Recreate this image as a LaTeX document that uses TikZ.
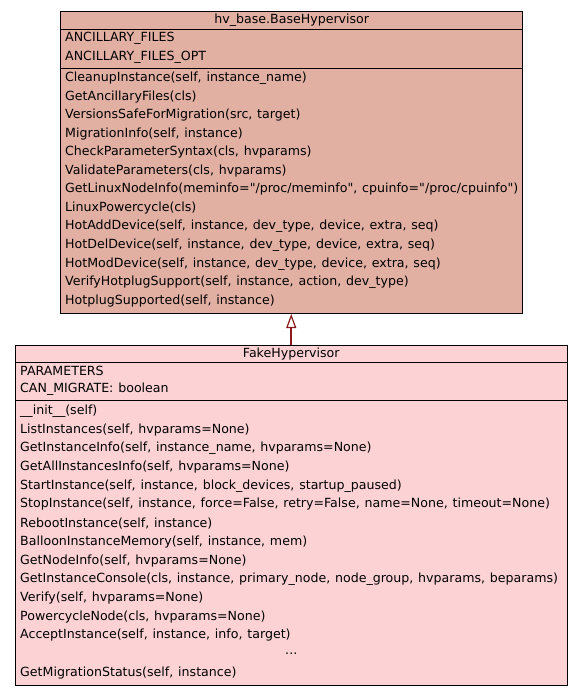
\documentclass[tikz,border=0pt]{standalone}
\usepackage{fontspec}
\newfontfamily\umlfont{DejaVu Sans}[WordSpace=1.2]
\usetikzlibrary{arrows.meta}
\definecolor{basefill}{RGB}{226,176,163}
\definecolor{fakefill}{RGB}{253,210,213}
\definecolor{inheritline}{RGB}{139,26,26}
\begin{document}
\begin{tikzpicture}[x=1bp,y=-1bp,
  classbox/.style={draw=black, line width=1bp, inner sep=0pt},
  sepline/.style={draw=black, line width=1bp},
  umltext/.style={inner sep=0pt, font=\umlfont\fontsize{12.6bp}{14bp}\selectfont},
  member/.style={umltext, anchor=west},
  generalization/.style={draw=inheritline, line width=1.6bp,
    -{Triangle[open, length=14bp, width=10bp, line width=1.2bp]}},
]
\useasboundingbox (0,0) rectangle (584,696);
\fill[white] (0,0) rectangle (584,696);

% base class
\node[classbox, fill=basefill, minimum width=461.5bp, minimum height=302bp] (base) at (291.75,162.5) {};
\draw[sepline] (61,29.5) -- (522.5,29.5);
\draw[sepline] (61,68.5) -- (522.5,68.5);
\node[umltext] (basetitle) at (291.75,20.5) {hv\_base.BaseHypervisor};
\node[member] (ba1) at (65,38.5) {ANCILLARY\_FILES};
\node[member] (ba2) at (65,57) {ANCILLARY\_FILES\_OPT};
\foreach \t [count=\i from 0] in {
  {CleanupInstance(self, instance\_name)},
  {GetAncillaryFiles(cls)},
  {VersionsSafeForMigration(src, target)},
  {MigrationInfo(self, instance)},
  {CheckParameterSyntax(cls, hvparams)},
  {ValidateParameters(cls, hvparams)},
  {GetLinuxNodeInfo(meminfo="/proc/meminfo", cpuinfo="/proc/cpuinfo")},
  {LinuxPowercycle(cls)},
  {HotAddDevice(self, instance, dev\_type, device, extra, seq)},
  {HotDelDevice(self, instance, dev\_type, device, extra, seq)},
  {HotModDevice(self, instance, dev\_type, device, extra, seq)},
  {VerifyHotplugSupport(self, instance, action, dev\_type)},
  {HotplugSupported(self, instance)}}
  \node[member] (bm\i) at (65,78+18.58*\i) {\t};

% derived class
\node[classbox, fill=fakefill, minimum width=551.5bp, minimum height=340bp] (fake) at (291.25,515) {};
\draw[sepline] (15.5,362.5) -- (567,362.5);
\draw[sepline] (15.5,400.5) -- (567,400.5);
\node[umltext] (faketitle) at (291.25,354) {FakeHypervisor};
\node[member] (fa1) at (20,370.5) {PARAMETERS};
\node[member] (fa2) at (20,389.5) {CAN\_MIGRATE: boolean};
\foreach \t [count=\i from 0] in {
  {\_\_init\_\_(self)},
  {ListInstances(self, hvparams=None)},
  {GetInstanceInfo(self, instance\_name, hvparams=None)},
  {GetAllInstancesInfo(self, hvparams=None)},
  {StartInstance(self, instance, block\_devices, startup\_paused)},
  {StopInstance(self, instance, force=False, retry=False, name=None, timeout=None)},
  {RebootInstance(self, instance)},
  {BalloonInstanceMemory(self, instance, mem)},
  {GetNodeInfo(self, hvparams=None)},
  {GetInstanceConsole(cls, instance, primary\_node, node\_group, hvparams, beparams)},
  {Verify(self, hvparams=None)},
  {PowercycleNode(cls, hvparams=None)},
  {AcceptInstance(self, instance, info, target)}}
  \node[member] (fm\i) at (20,411+18.7*\i) {\t};
\node[umltext] (fdots) at (291.25,654) {...};
\node[member] (flast) at (20,673) {GetMigrationStatus(self, instance)};

% inheritance
\draw[generalization] (fake.north) -- (fake.north |- base.south);
\end{tikzpicture}
\end{document}
